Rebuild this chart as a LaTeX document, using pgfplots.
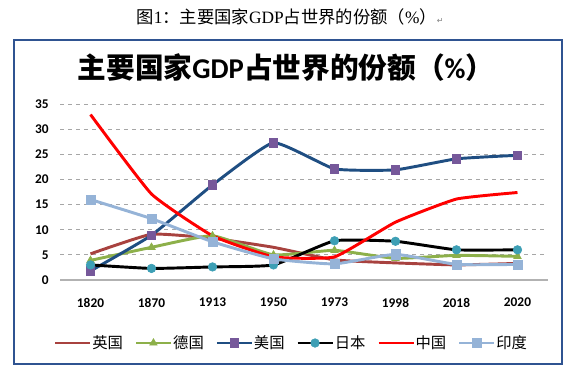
\documentclass[border=0pt]{standalone}
\usepackage{pgfplots}
\pgfplotsset{compat=1.18}
\usepackage{pgfplotstable}
\usepackage{fontspec}
\setmainfont{Carlito}
\newfontfamily\cjk{Noto Sans CJK SC}
\newfontfamily\serifl{Liberation Serif}
\newfontfamily\dejavu{DejaVu Sans}
\definecolor{frameblue}{HTML}{2F5391}
\definecolor{ukc}{HTML}{A8423F}
\definecolor{dec}{HTML}{8DB04A}
\definecolor{usl}{HTML}{1F4E82}
\definecolor{usm}{HTML}{76589A}
\definecolor{jpm}{HTML}{3D9FB5}
\definecolor{inc}{HTML}{95B3D7}
\pgfplotstableread{
x UK DE US JP CN IN
0 5.2 3.9 1.8 3.0 32.9 16.0
1 9.1 6.5 8.9 2.3 17.1 12.2
2 8.3 8.8 18.9 2.6 8.8 7.6
3 6.5 5.0 27.3 3.0 4.6 4.2
4 4.0 5.9 22.1 7.8 4.6 3.2
5 3.4 4.3 21.9 7.7 11.5 5.1
6 3.0 4.9 24.1 6.0 16.1 3.1
7 3.3 4.7 24.8 6.0 17.4 3.1
}\data
\begin{document}
\begin{tikzpicture}[x=0.75pt,y=0.75pt]
\path[use as bounding box] (0,0) rectangle (575,372);
\node at (290,355) {\cjk\fontsize{13}{15}\selectfont 图{\serifl 1}：主要国家{\serifl GDP}占世界的份额（{\serifl\%}）{\dejavu\color{gray}\fontsize{6}{7}\selectfont ↵}};
\draw[frameblue, line width=2.2pt] (14,8) rectangle (562,332);
\node at (286,304) {\cjk\bfseries\fontsize{21.5}{26}\selectfont 主要国家{\rmfamily\bfseries GDP}占世界的份额（{\rmfamily\bfseries\%}）};
\begin{axis}[
  at={(45pt,69pt)}, anchor=south west,
  scale only axis, width=366pt, height=132pt,
  xmin=-0.5, xmax=7.5, ymin=0, ymax=35,
  xtick={0,...,7},
  xticklabels={1820,1870,1913,1950,1973,1998,2018,2020},
  ytick={0,5,...,35},
  separate axis lines,
  axis x line*=bottom, axis y line*=left,
  y axis line style={draw=none},
  x axis line style={draw=gray!60, line width=1pt, -},
  tick style={draw=none},
  ymajorgrids,
  grid style={dashed, gray!70, line width=0.6pt},
  /pgf/number format/assume math mode=true,
  ticklabel style={font=\bfseries\fontsize{10}{12}\selectfont},
  yticklabel style={xshift=-5pt},
  xticklabel style={yshift=-10pt},
  legend columns=6,
  legend style={at={(0.474,-0.358)}, anchor=center, draw=none,
    font=\cjk\fontsize{11.5}{13}\selectfont,
    /tikz/every even column/.append style={column sep=8pt},
    nodes={inner sep=1pt}},
  legend image code/.code={\draw[mark repeat=2,mark phase=2,#1,line width=1.6pt] plot coordinates {(0pt,0pt) (13pt,0pt) (26pt,0pt)};},
  every axis plot/.append style={line width=2.2pt, smooth, tension=0.25},
]
\addplot[ukc, no marks] table[x=x,y=UK] {\data};
\addlegendentry{英国}
\addplot[dec, mark=triangle*, mark size=3.2pt, mark options={fill=dec, draw=dec, line width=0.5pt}] table[x=x,y=DE] {\data};
\addlegendentry{德国}
\addplot[usl, mark=square*, mark size=3.2pt, mark options={fill=usm, draw=usm, line width=0.5pt}] table[x=x,y=US] {\data};
\addlegendentry{美国}
\addplot[black, mark=*, mark size=3.2pt, mark options={fill=jpm, draw=jpm, line width=0.5pt}] table[x=x,y=JP] {\data};
\addlegendentry{日本}
\addplot[red, no marks] table[x=x,y=CN] {\data};
\addlegendentry{中国}
\addplot[inc, mark=square*, mark size=3.4pt, mark options={fill=inc, draw=inc, line width=0.5pt}] table[x=x,y=IN] {\data};
\addlegendentry{印度}
\end{axis}
\end{tikzpicture}
\end{document}
